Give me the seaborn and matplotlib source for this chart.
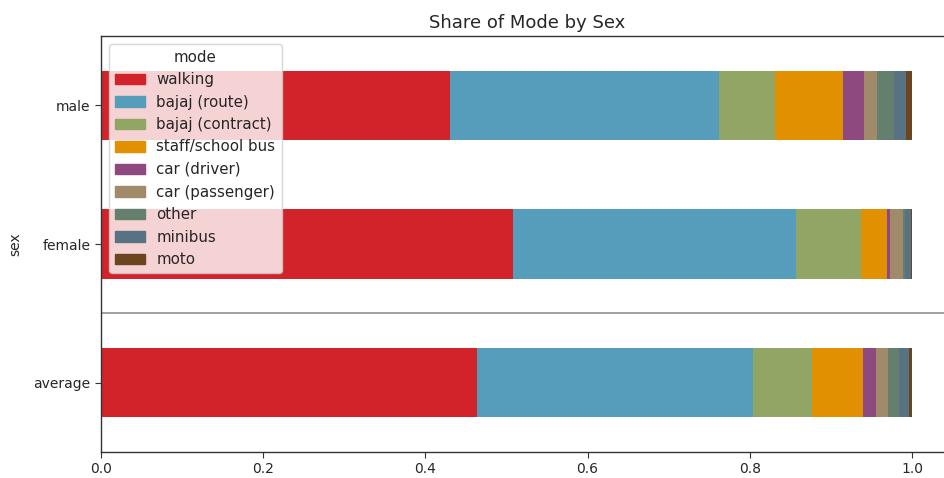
import matplotlib
matplotlib.use("Agg")
import matplotlib.pyplot as plt
import seaborn as sns
import numpy as np
import pandas as pd

categories = ["male", "female", "average"]
modes = ["walking", "bajaj (route)", "bajaj (contract)", "staff/school bus",
         "car (driver)", "car (passenger)", "other", "minibus", "moto"]
colors = ["#d2232a", "#559dba", "#91a564", "#e09000", "#8e497e",
          "#a08a6a", "#657f6f", "#577282", "#6b4420"]

walking = [0.430, 0.508, 0.464]
bajaj_route = [0.332, 0.349, 0.340]
bajaj_contract = [0.069, 0.080, 0.073]
staff_bus = [0.084, 0.032, 0.062]
car_driver = [0.026, 0.004, 0.017]
car_passenger = [0.016, 0.016, 0.015]
other = [0.021, 0.002, 0.013]
minibus = [0.014, 0.008, 0.012]
moto = [0.008, 0.001, 0.004]

series = [walking, bajaj_route, bajaj_contract, staff_bus, car_driver,
          car_passenger, other, minibus, moto]

df = pd.DataFrame(np.array(series).T, index=categories, columns=modes)
cum = df.cumsum(axis=1)

sns.set_style("white")
plt.rcParams["font.family"] = ["DejaVu Sans"]

fig = plt.figure(figsize=(9.44, 4.78), dpi=100)
ax = fig.add_axes([101/944, 1-452/478, (1.05*811)/944, (452-36)/478])

handles = {}
for i in range(len(modes) - 1, -1, -1):
    m = modes[i]
    d = pd.DataFrame({"sex": categories, "value": cum[m].values})
    sns.barplot(data=d, x="value", y="sex", order=categories, color=colors[i],
                width=0.5, saturation=1, ax=ax, orient="h", linewidth=0)
    handles[m] = plt.Rectangle((0, 0), 1, 1, color=colors[i])

ax.axhline(1.5, color="#909090", lw=1.2)
ax.set_xlim(0, 1.05)
ax.set_ylim(2.5, -0.5)
ax.set_xticks([0.0, 0.2, 0.4, 0.6, 0.8, 1.0])
ax.set_xticklabels(["0.0", "0.2", "0.4", "0.6", "0.8", "1.0"])
ax.set_xlabel("")
ax.set_ylabel("sex", fontsize=10, labelpad=8)
ax.set_title("Share of Mode by Sex", fontsize=13)
ax.tick_params(axis="both", labelsize=10, length=4, color="#333333", left=True, bottom=True)
for s in ax.spines.values():
    s.set_color("#333333")
    s.set_linewidth(1.0)
    s.set_visible(True)

ax.legend([handles[m] for m in modes], modes, title="mode", loc="upper left",
          fontsize=10.8, title_fontsize=10.8, framealpha=0.8)

fig.savefig("out.png", dpi=100)
